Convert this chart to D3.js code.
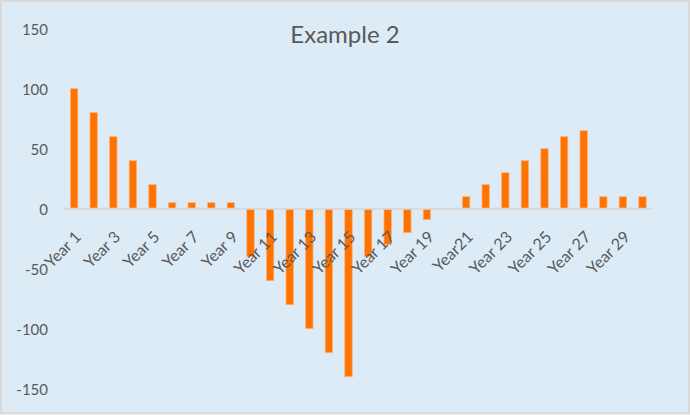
<!DOCTYPE html>
<html>
<head>
<meta charset="utf-8">
<script src="https://cdn.jsdelivr.net/npm/d3@7"></script>
<style>
  html, body { margin: 0; padding: 0; background: #fff; }
  svg { display: block; }
  text { font-family: Lato, "Open Sans", sans-serif; fill: #595959; }
</style>
</head>
<body>
<svg id="chart" width="690" height="415"></svg>
<script>
const categories = ["Year 1","Year 2","Year 3","Year 4","Year 5","Year 6","Year 7","Year 8","Year 9","Year 10",
  "Year 11","Year 12","Year 13","Year 14","Year 15","Year 16","Year 17","Year 18","Year 19","Year 20",
  "Year21","Year 22","Year 23","Year 24","Year 25","Year 26","Year 27","Year 28","Year 29","Year 30"];
const values = [100, 80, 60, 40, 20, 5, 5, 5, 5, -40,
  -60, -80, -100, -120, -140, -40, -30, -20, -9, 0,
  10, 20, 30, 40, 50, 60, 65, 10, 10, 10];
const yTicks = [-150, -100, -50, 0, 50, 100, 150];
const xTickLabels = categories.filter((d, i) => i % 2 === 0);
const title = "Example 2";

const W = 690, H = 415;
const svg = d3.select("#chart");

svg.append("rect")
  .attr("x", 1).attr("y", 1).attr("width", W - 2).attr("height", H - 2.5)
  .attr("fill", "#DDEBF7").attr("stroke", "#D9D9D9").attr("stroke-width", 2);

const x = d3.scaleBand().domain(categories).range([64.3, 652.3]).paddingInner(0.62).paddingOuter(0.31);
const y = d3.scaleLinear().domain([-150, 150]).range([388.7, 28.7]);

// y axis labels
const yAxis = svg.append("g").attr("transform", "translate(48,0)")
  .call(d3.axisLeft(y).tickValues(yTicks).tickSize(0).tickPadding(0).tickFormat(d => String(d)));
yAxis.select(".domain").remove();
yAxis.selectAll("text").attr("font-family", "Lato, sans-serif").attr("font-size", 15)
  .attr("fill", "#595959").attr("dy", "0.36em");

// bars
svg.append("g").selectAll("rect").data(values).join("rect")
  .attr("x", (d, i) => x(categories[i]))
  .attr("width", x.bandwidth())
  .attr("y", d => y(Math.max(0, d)))
  .attr("height", d => Math.abs(y(d) - y(0)))
  .attr("fill", "#FF7400")
  .attr("stroke", "#FFB27A")
  .attr("stroke-width", 0.75);

// zero line
svg.append("line")
  .attr("x1", 64.3).attr("x2", 652.3)
  .attr("y1", y(0)).attr("y2", y(0))
  .attr("stroke", "#D9D9D9").attr("stroke-width", 2);

// x axis labels
const xAxis = svg.append("g").attr("transform", "translate(0,230)")
  .call(d3.axisBottom(x).tickValues(xTickLabels).tickSize(0));
xAxis.select(".domain").remove();
xAxis.selectAll("text")
  .attr("font-family", "Lato, sans-serif").attr("font-size", 16).attr("fill", "#595959")
  .attr("x", 0).attr("y", 0).attr("dy", "0.71em")
  .attr("text-anchor", "end")
  .attr("transform", "rotate(-45)");

// title
svg.append("text")
  .attr("x", 345).attr("y", 43)
  .attr("text-anchor", "middle")
  .attr("font-size", 24)
  .attr("fill", "#595959")
  .text(title);
</script>
</body>
</html>
